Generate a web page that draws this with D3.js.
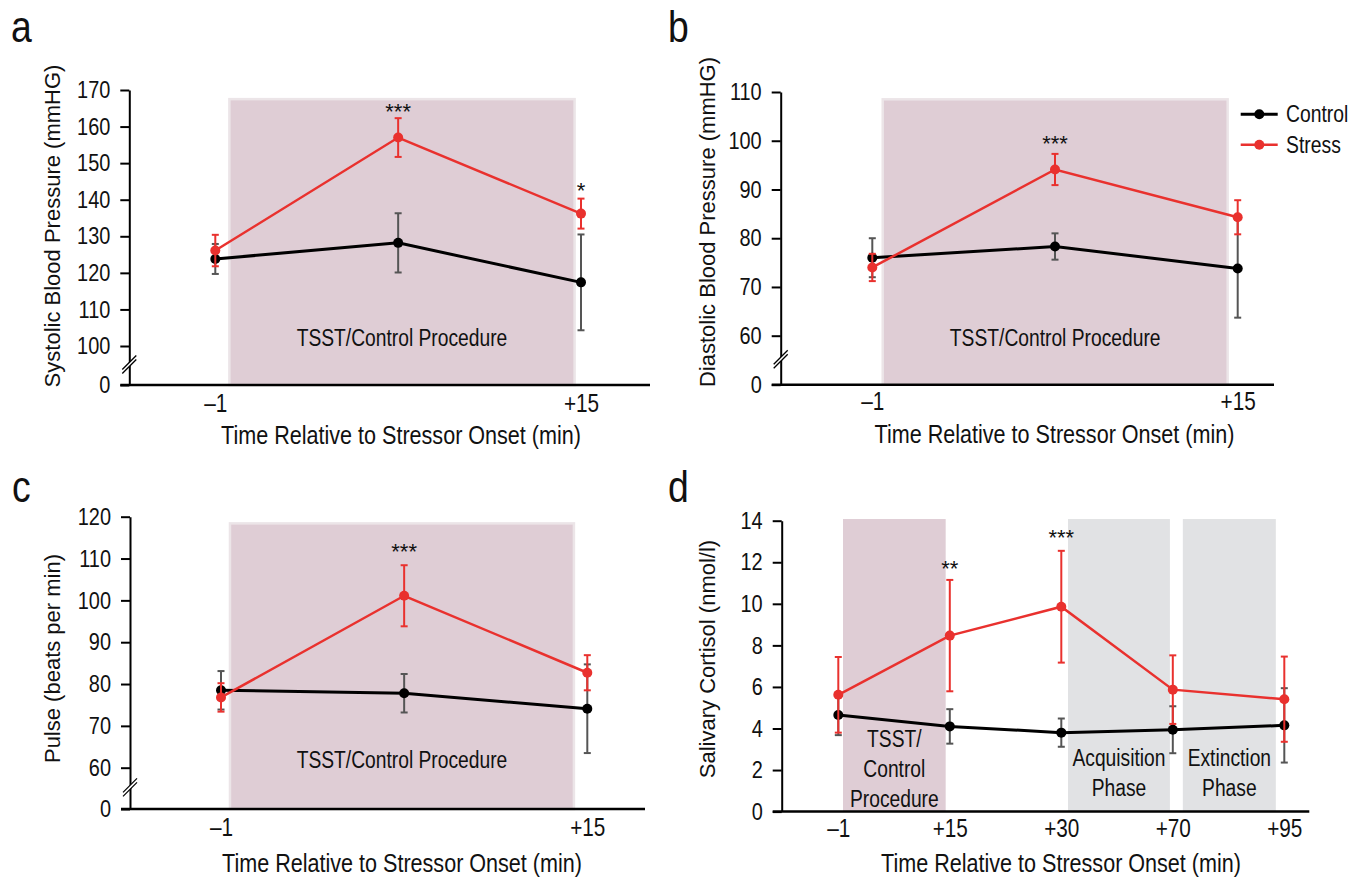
<!DOCTYPE html>
<html>
<head>
<meta charset="utf-8">
<script src="https://cdn.jsdelivr.net/npm/d3@7"></script>
<style>
  body { margin: 0; background: #fff; }
  svg { display: block; }
  text { fill: #111; font-family: "Liberation Sans", Arial, sans-serif; }
</style>
</head>
<body>
<svg id="chart" width="1361" height="878"></svg>
<script>
// time points (x axis)
const timeLabelsBP = ["–1", "", "+15"];
const timeLabelsCort = ["–1", "+15", "+30", "+70", "+95"];

// a: systolic blood pressure (mmHG)
const sysControl = [123.8, 128.2, 117.4];
const sysControlErr = [4.1, 8.1, 13.1];
const sysStress = [126.1, 157.0, 136.2];
const sysStressErr = [4.3, 5.3, 4.1];

// b: diastolic blood pressure (mmHG)
const diaControl = [76.0, 78.3, 73.8];
const diaControlErr = [4.0, 2.7, 10.1];
const diaStress = [74.0, 94.1, 84.3];
const diaStressErr = [2.8, 3.2, 3.5];

// c: pulse (beats per min)
const pulseControl = [78.5, 77.8, 74.1];
const pulseControlErr = [4.6, 4.6, 10.6];
const pulseStress = [76.8, 101.1, 82.7];
const pulseStressErr = [3.4, 7.3, 4.2];

// d: salivary cortisol (nmol/l)
const cortControl = [4.65, 4.10, 3.80, 3.94, 4.15];
const cortControlErr = [0.97, 0.83, 0.68, 1.13, 1.79];
const cortStress = [5.62, 8.47, 9.86, 5.87, 5.41];
const cortStressErr = [1.82, 2.68, 2.69, 1.65, 2.05];

// y tick values
const ticksSys = [0, 100, 110, 120, 130, 140, 150, 160, 170];
const ticksDia = [0, 60, 70, 80, 90, 100, 110];
const ticksPulse = [0, 60, 70, 80, 90, 100, 110, 120];
const ticksCort = [0, 2, 4, 6, 8, 10, 12, 14];

// shaded procedure phases (x in time-point index units)
const phasesSys = [{ from: 0.077, to: 1.965, top: 167.5, kind: "tsst", lines: ["TSST/Control Procedure"] }];
const phasesDia = [{ from: 0.057, to: 1.945, top: 108.5, kind: "tsst", lines: ["TSST/Control Procedure"] }];
const phasesPulse = [{ from: 0.049, to: 1.927, top: 118.4, kind: "tsst", lines: ["TSST/Control Procedure"] }];
const phasesCort = [
  { from: 0.042, to: 0.963, top: 14.08, kind: "tsst", lines: ["TSST/", "Control", "Procedure"] },
  { from: 2.06, to: 2.974, top: 14.08, kind: "task", lines: ["Acquisition", "Phase"] },
  { from: 3.09, to: 3.924, top: 14.08, kind: "task", lines: ["Extinction", "Phase"] }
];

// significance markers
const sigSys = [{ i: 1, text: "***", at: 165.4 }, { i: 2, text: "*", at: 144.0 }];
const sigDia = [{ i: 1, text: "***", at: 100.5 }];
const sigPulse = [{ i: 1, text: "***", at: 112.8 }];
const sigCort = [{ i: 1, text: "**", at: 11.95 }, { i: 2, text: "***", at: 13.42 }];

const RED = "#e9312e";
const SX = 0.83;   // horizontal squeeze for the condensed face
const svg = d3.select("#chart");

// condensed text: Liberation Sans squeezed horizontally
function narrowText(parent, x, y, size, anchor) {
  return parent.append("g")
    .attr("transform", `translate(${x},${y}) scale(${SX},1)`)
    .append("text")
    .attr("text-anchor", anchor)
    .style("font-size", size + "px");
}

function drawPanel(p) {
  const g = svg.append("g");
  const n = p.labels.length;
  const x = d3.scaleLinear().domain([0, n - 1]).range(p.xRange);
  const y = d3.scaleLinear().domain(p.yDomain).range(p.yRange);
  const y0 = y(0);

  // shaded phases
  p.phases.forEach(ph => {
    g.append("rect")
      .attr("x", x(ph.from))
      .attr("y", y(ph.top))
      .attr("width", x(ph.to) - x(ph.from))
      .attr("height", y0 - y(ph.top))
      .attr("fill", ph.kind == "tsst" ? "#dfcdd5" : "#e1e2e4")
      .attr("stroke", ph.kind == "tsst" && p.border ? "#ece5e8" : "none")
      .attr("stroke-width", 2.5);
    const last = y0 - p.labelBottom[ph.lines.length - 1];
    const t = narrowText(g, x((ph.from + ph.to) / 2), last, 23.2, "middle");
    ph.lines.forEach((line, k) => {
      t.append("tspan")
        .attr("x", 0)
        .attr("y", -(ph.lines.length - 1 - k) * 30)
        .text(line);
    });
  });

  // y axis
  const yAxis = g.append("g")
    .attr("transform", `translate(${p.yAxisX},0)`)
    .call(d3.axisLeft(y).tickValues(p.yTicks).tickSize(9).tickPadding(10).tickSizeOuter(0));
  yAxis.select(".domain").attr("stroke", "#000").attr("stroke-width", 2);
  yAxis.selectAll(".tick line").attr("stroke", "#000").attr("stroke-width", 2);
  yAxis.selectAll(".tick text")
    .style("font-size", "24px")
    .attr("fill", "#111")
    .attr("font-family", null)
    .attr("x", -19 / SX)
    .attr("transform", `scale(${SX},1)`);

  // axis break
  if (p.yDomain.length > 2) {
    const yb = (y0 + y(p.yDomain[1])) / 2;
    const bx = p.yAxisX;
    g.append("path")
      .attr("d", `M${bx - 6},${yb + 7} L${bx + 6},${yb - 5} L${bx + 6},${yb - 9} L${bx - 6},${yb + 3} Z`)
      .attr("fill", "#fff");
    [-2, 2].forEach(o => {
      g.append("line")
        .attr("x1", bx - 7).attr("y1", yb + 6 + o)
        .attr("x2", bx + 7).attr("y2", yb - 8 + o)
        .attr("stroke", "#000").attr("stroke-width", 1.3);
    });
  }

  // x axis
  g.append("line")
    .attr("x1", p.yAxisX - 9).attr("x2", p.xAxisEnd)
    .attr("y1", y0).attr("y2", y0)
    .attr("stroke", "#000").attr("stroke-width", 2.5);
  const xAxis = g.append("g")
    .attr("transform", `translate(0,${y0})`)
    .call(d3.axisBottom(x).tickValues(d3.range(n)).tickFormat(i => p.labels[i]).tickSize(0).tickPadding(p.xPad));
  xAxis.select(".domain").remove();
  xAxis.selectAll(".tick text")
    .style("font-size", "25px")
    .attr("fill", "#111")
    .attr("transform", `scale(${SX},1)`);

  // series: control first, stress on top
  const series = [
    { vals: p.control, errs: p.controlErr, color: "#000", bar: "#555", width: 3 },
    { vals: p.stress, errs: p.stressErr, color: RED, bar: RED, width: 2.5 }
  ];
  series.forEach(s => {
    const pts = s.vals.map((v, i) => ({ i: i, v: v, e: s.errs[i] }));
    const eb = g.append("g").attr("stroke", s.bar).attr("stroke-width", 2);
    pts.forEach(d => {
      eb.append("line").attr("x1", x(d.i)).attr("x2", x(d.i)).attr("y1", y(d.v + d.e)).attr("y2", y(d.v - d.e));
      [d.v + d.e, d.v - d.e].forEach(c => {
        eb.append("line").attr("x1", x(d.i) - 3.5).attr("x2", x(d.i) + 3.5).attr("y1", y(c)).attr("y2", y(c));
      });
    });
    g.append("path")
      .datum(pts)
      .attr("fill", "none")
      .attr("stroke", s.color)
      .attr("stroke-width", s.width)
      .attr("d", d3.line().x(d => x(d.i)).y(d => y(d.v)));
    g.selectAll(null)
      .data(pts)
      .enter()
      .append("circle")
      .attr("cx", d => x(d.i))
      .attr("cy", d => y(d.v))
      .attr("r", 5)
      .attr("fill", s.color);
  });

  // significance stars
  g.selectAll(null)
    .data(p.sig)
    .enter()
    .append("text")
    .attr("x", d => x(d.i))
    .attr("y", d => y(d.at))
    .attr("dy", "0.57em")
    .attr("text-anchor", "middle")
    .style("font-size", "22px")
    .text(d => d.text);

  // titles
  g.append("text")
    .attr("transform", `translate(${p.yTitlePos[0]},${p.yTitlePos[1]}) rotate(-90)`)
    .attr("dy", "0.35em")
    .attr("text-anchor", "middle")
    .style("font-size", "22px")
    .text(p.yTitle);
  narrowText(g, p.xTitlePos[0], p.xTitlePos[1], 26, "middle")
    .text("Time Relative to Stressor Onset (min)");
  narrowText(g, p.letterPos[0], p.letterPos[1], 45, "start")
    .text(p.letter);
}

drawPanel({
  letter: "a", letterPos: [11, 42],
  labels: timeLabelsBP, control: sysControl, controlErr: sysControlErr, stress: sysStress, stressErr: sysStressErr,
  yDomain: [0, 100, 170], yRange: [385, 346, 90], yTicks: ticksSys,
  xRange: [215.3, 581], yAxisX: 129.3, xAxisEnd: 650, xPad: 9,
  phases: phasesSys, border: true, labelBottom: [39],
  sig: sigSys,
  yTitle: "Systolic Blood Pressure (mmHG)", yTitlePos: [52, 226], xTitlePos: [401, 444]
});

drawPanel({
  letter: "b", letterPos: [668, 42],
  labels: timeLabelsBP, control: diaControl, controlErr: diaControlErr, stress: diaStress, stressErr: diaStressErr,
  yDomain: [0, 60, 110], yRange: [384.7, 335.7, 92], yTicks: ticksDia,
  xRange: [872.3, 1237.7], yAxisX: 780.7, xAxisEnd: 1274, xPad: 8,
  phases: phasesDia, border: true, labelBottom: [39],
  sig: sigDia,
  yTitle: "Diastolic Blood Pressure (mmHG)", yTitlePos: [707, 222], xTitlePos: [1054.5, 443]
});

drawPanel({
  letter: "c", letterPos: [12, 502],
  labels: timeLabelsBP, control: pulseControl, controlErr: pulseControlErr, stress: pulseStress, stressErr: pulseStressErr,
  yDomain: [0, 60, 120], yRange: [809, 767.7, 516.7], yTicks: ticksPulse,
  xRange: [221, 587.3], yAxisX: 130, xAxisEnd: 645, xPad: 9,
  phases: phasesPulse, border: true, labelBottom: [41],
  sig: sigPulse,
  yTitle: "Pulse (beats per min)", yTitlePos: [52, 658.5], xTitlePos: [402, 871.5]
});

drawPanel({
  letter: "d", letterPos: [668, 502],
  labels: timeLabelsCort, control: cortControl, controlErr: cortControlErr, stress: cortStress, stressErr: cortStressErr,
  yDomain: [0, 14], yRange: [811.6, 520.7], yTicks: ticksCort,
  xRange: [838.3, 1284.3], yAxisX: 781.7, xAxisEnd: 1309.3, xPad: 8,
  phases: phasesCort, border: false, labelBottom: [5, 15.6, 5],
  sig: sigCort,
  yTitle: "Salivary Cortisol (nmol/l)", yTitlePos: [707, 659], xTitlePos: [1061, 871.5]
});

// legend (panel b)
const legendItems = ["Control", "Stress"];
const legendColors = ["#000", RED];
const legend = svg.append("g").attr("class", "legend");
legendItems.forEach((name, k) => {
  const ly = 114.3 + k * 30.4;
  legend.append("line").attr("x1", 1240.7).attr("x2", 1277.7).attr("y1", ly).attr("y2", ly)
    .attr("stroke", legendColors[k]).attr("stroke-width", k == 0 ? 3 : 2.5);
  legend.append("circle").attr("cx", 1259.3).attr("cy", ly).attr("r", 5).attr("fill", legendColors[k]);
  narrowText(legend, 1286, ly, 23.3, "start").attr("dy", "0.35em").text(name);
});
</script>
</body>
</html>
